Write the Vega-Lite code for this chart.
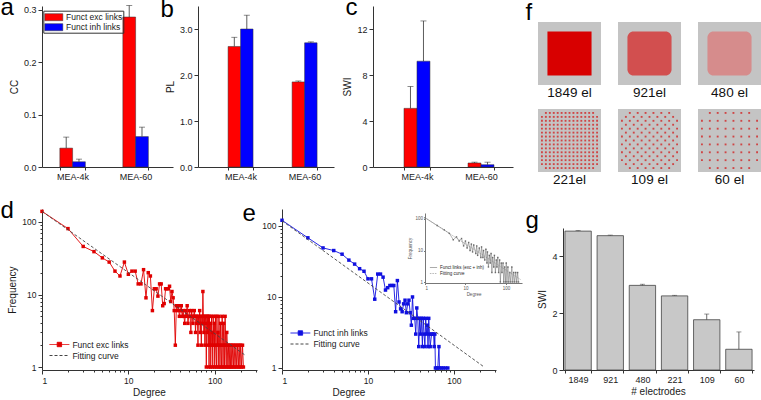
{
  "$schema": "https://vega.github.io/schema/vega-lite/v6.json",
  "background": "white",
  "padding": {"top": -5, "left": 0, "right": 0, "bottom": 0},
  "autosize": {"type": "pad"},
  "spacing": 11,
  "resolve": {"scale": {"color": "independent", "x": "independent", "y": "independent", "xOffset": "independent"}, "legend": {"color": "independent"}},
  "config": {
    "font": "Liberation Sans",
    "view": {"stroke": null},
    "axis": {"labelFont": "Liberation Sans", "titleFont": "Liberation Sans", "labelFontSize": 9, "titleFontSize": 10, "titleFontWeight": "normal", "labelColor": "#1a1a1a", "titleColor": "#1a1a1a", "domainColor": "#333333", "tickColor": "#333333", "tickSize": 3, "grid": false, "labelPadding": 2, "titlePadding": 4, "labelOverlap": false},
    "legend": {"labelFont": "Liberation Sans", "labelColor": "#1a1a1a"},
    "title": {"font": "Liberation Sans", "fontWeight": "normal", "color": "#1a1a1a"}
  },
  "datasets": {
    "cc": [
      {"g": "MEA-4k", "t": "Funct exc links", "v": 0.036, "hi": 0.057},
      {"g": "MEA-4k", "t": "Funct inh links", "v": 0.010, "hi": 0.015},
      {"g": "MEA-60", "t": "Funct exc links", "v": 0.286, "hi": 0.308},
      {"g": "MEA-60", "t": "Funct inh links", "v": 0.058, "hi": 0.076}
    ],
    "pl": [
      {"g": "MEA-4k", "t": "Funct exc links", "v": 2.62, "hi": 2.82},
      {"g": "MEA-4k", "t": "Funct inh links", "v": 3.0, "hi": 3.3},
      {"g": "MEA-60", "t": "Funct exc links", "v": 1.85, "hi": 1.87},
      {"g": "MEA-60", "t": "Funct inh links", "v": 2.70, "hi": 2.72}
    ],
    "swi": [
      {"g": "MEA-4k", "t": "Funct exc links", "v": 5.1, "hi": 7.0},
      {"g": "MEA-4k", "t": "Funct inh links", "v": 9.2, "hi": 12.7},
      {"g": "MEA-60", "t": "Funct exc links", "v": 0.35, "hi": 0.42},
      {"g": "MEA-60", "t": "Funct inh links", "v": 0.2, "hi": 0.42}
    ],
    "elec": [
      {"n": "1849", "v": 4.89, "hi": 4.91},
      {"n": "921", "v": 4.73, "hi": 4.75},
      {"n": "480", "v": 2.98, "hi": 3.02},
      {"n": "221", "v": 2.61, "hi": 2.63},
      {"n": "109", "v": 1.77, "hi": 1.97},
      {"n": "60", "v": 0.73, "hi": 1.34}
    ],
    "fpanels": [
      {"col": 0, "row": 0, "label": "1849 el", "kind": "solid"},
      {"col": 1, "row": 0, "label": "921el", "kind": "checker"},
      {"col": 2, "row": 0, "label": "480 el", "kind": "grid"},
      {"col": 0, "row": 1, "label": "221el", "kind": "dots"},
      {"col": 1, "row": 1, "label": "109 el", "kind": "dots"},
      {"col": 2, "row": 1, "label": "60 el", "kind": "dots"}
    ],
    "fdots": [
      {"col": 0, "row": 1, "i": 0, "js": [3,6,9,12,15,18,21,24,27,30,33,36,39]},
      {"col": 0, "row": 1, "i": 3, "js": [0,3,6,9,12,15,18,21,24,27,30,33,36,39,42]},
      {"col": 0, "row": 1, "i": 6, "js": [0,3,6,9,12,15,18,21,24,27,30,33,36,39,42]},
      {"col": 0, "row": 1, "i": 9, "js": [0,3,6,9,12,15,18,21,24,27,30,33,36,39,42]},
      {"col": 0, "row": 1, "i": 12, "js": [0,3,6,9,12,15,18,21,24,27,30,33,36,39,42]},
      {"col": 0, "row": 1, "i": 15, "js": [0,3,6,9,12,15,18,21,24,27,30,33,36,39,42]},
      {"col": 0, "row": 1, "i": 18, "js": [0,3,6,9,12,15,18,21,24,27,30,33,36,39,42]},
      {"col": 0, "row": 1, "i": 21, "js": [0,3,6,9,12,15,18,21,24,27,30,33,36,39,42]},
      {"col": 0, "row": 1, "i": 24, "js": [0,3,6,9,12,15,18,21,24,27,30,33,36,39,42]},
      {"col": 0, "row": 1, "i": 27, "js": [0,3,6,9,12,15,18,21,24,27,30,33,36,39,42]},
      {"col": 0, "row": 1, "i": 30, "js": [0,3,6,9,12,15,18,21,24,27,30,33,36,39,42]},
      {"col": 0, "row": 1, "i": 33, "js": [0,3,6,9,12,15,18,21,24,27,30,33,36,39,42]},
      {"col": 0, "row": 1, "i": 36, "js": [0,3,6,9,12,15,18,21,24,27,30,33,36,39,42]},
      {"col": 0, "row": 1, "i": 39, "js": [0,3,6,9,12,15,18,21,24,27,30,33,36,39,42]},
      {"col": 0, "row": 1, "i": 42, "js": [3,6,9,12,15,18,21,24,27,30,33,36,39]},
      {"col": 1, "row": 1, "i": 0, "js": [6,12,18,24,30,36]},
      {"col": 1, "row": 1, "i": 3, "js": [3,9,15,21,27,33,39]},
      {"col": 1, "row": 1, "i": 6, "js": [0,6,12,18,24,30,36,42]},
      {"col": 1, "row": 1, "i": 9, "js": [3,9,15,21,27,33,39]},
      {"col": 1, "row": 1, "i": 12, "js": [0,6,12,18,24,30,36,42]},
      {"col": 1, "row": 1, "i": 15, "js": [3,9,15,21,27,33,39]},
      {"col": 1, "row": 1, "i": 18, "js": [0,6,12,18,24,30,36,42]},
      {"col": 1, "row": 1, "i": 21, "js": [3,9,15,21,27,33,39]},
      {"col": 1, "row": 1, "i": 24, "js": [0,6,12,18,24,30,36,42]},
      {"col": 1, "row": 1, "i": 27, "js": [3,9,15,21,27,33,39]},
      {"col": 1, "row": 1, "i": 30, "js": [0,6,12,18,24,30,36,42]},
      {"col": 1, "row": 1, "i": 33, "js": [3,9,15,21,27,33,39]},
      {"col": 1, "row": 1, "i": 36, "js": [0,6,12,18,24,30,36,42]},
      {"col": 1, "row": 1, "i": 39, "js": [3,9,15,21,27,33,39]},
      {"col": 1, "row": 1, "i": 42, "js": [6,12,18,24,30,36]},
      {"col": 2, "row": 1, "i": 0, "js": [6,12,18,24,30,36]},
      {"col": 2, "row": 1, "i": 6, "js": [0,6,12,18,24,30,36,42]},
      {"col": 2, "row": 1, "i": 12, "js": [0,6,12,18,24,30,36,42]},
      {"col": 2, "row": 1, "i": 18, "js": [0,6,12,18,24,30,36,42]},
      {"col": 2, "row": 1, "i": 24, "js": [0,6,12,18,24,30,36,42]},
      {"col": 2, "row": 1, "i": 30, "js": [0,6,12,18,24,30,36,42]},
      {"col": 2, "row": 1, "i": 36, "js": [0,6,12,18,24,30,36,42]},
      {"col": 2, "row": 1, "i": 42, "js": [6,12,18,24,30,36]}
    ],
    "dexc": [
      {"deg":1,"fr":140},{"deg":2,"fr":81},{"deg":3,"fr":46},{"deg":4,"fr":39},{"deg":5,"fr":32},{"deg":6,"fr":28},{"deg":7,"fr":21},{"deg":8,"fr":18},{"deg":9,"fr":28},{"deg":10,"fr":19},
      {"deg":11,"fr":21},{"deg":12,"fr":21},{"deg":13,"fr":14},{"deg":14,"fr":14},{"deg":15,"fr":22},{"deg":16,"fr":9},{"deg":17,"fr":20},{"deg":18,"fr":18},{"deg":19,"fr":6},{"deg":20,"fr":12},
      {"deg":21,"fr":12},{"deg":22,"fr":9.5},{"deg":23,"fr":14},{"deg":24,"fr":14},{"deg":25,"fr":7},{"deg":26,"fr":7.5},{"deg":27,"fr":12},{"deg":28,"fr":12},{"deg":29,"fr":12},{"deg":30,"fr":13},
      {"deg":31,"fr":8},{"deg":32,"fr":11},{"deg":33,"fr":9},{"deg":34,"fr":6},{"deg":35,"fr":2},{"deg":36,"fr":7},{"deg":37,"fr":6},{"deg":38,"fr":7},{"deg":39,"fr":5},{"deg":40,"fr":6},
      {"deg":41,"fr":7},{"deg":42,"fr":5},{"deg":43,"fr":6},{"deg":44,"fr":5},{"deg":45,"fr":4},{"deg":46,"fr":6},{"deg":47,"fr":5},{"deg":48,"fr":7},{"deg":49,"fr":4},{"deg":50,"fr":5},
      {"deg":51,"fr":6},{"deg":52,"fr":5},{"deg":53,"fr":3},{"deg":54,"fr":6},{"deg":55,"fr":5},{"deg":56,"fr":4},{"deg":57,"fr":5},{"deg":58,"fr":6},{"deg":59,"fr":5},{"deg":60,"fr":3},
      {"deg":61,"fr":5},{"deg":62,"fr":4},{"deg":63,"fr":5},{"deg":64,"fr":2},{"deg":65,"fr":5},{"deg":66,"fr":4},{"deg":67,"fr":6},{"deg":68,"fr":3},{"deg":69,"fr":5},{"deg":70,"fr":2},
      {"deg":71,"fr":5},{"deg":72,"fr":4},{"deg":73,"fr":11},{"deg":74,"fr":5},{"deg":75,"fr":3},{"deg":76,"fr":5},{"deg":77,"fr":2},{"deg":78,"fr":5},{"deg":79,"fr":4},{"deg":80,"fr":1},
      {"deg":81,"fr":5},{"deg":82,"fr":3},{"deg":83,"fr":5},{"deg":84,"fr":2},{"deg":85,"fr":5},{"deg":86,"fr":1},{"deg":87,"fr":5},{"deg":88,"fr":2},{"deg":89,"fr":4},{"deg":90,"fr":1},
      {"deg":92,"fr":5},{"deg":93,"fr":2},{"deg":94,"fr":3},{"deg":95,"fr":1},{"deg":96,"fr":5},{"deg":98,"fr":2},{"deg":99,"fr":4},{"deg":100,"fr":1},{"deg":102,"fr":5},{"deg":103,"fr":2},
      {"deg":105,"fr":1},{"deg":106,"fr":5},{"deg":108,"fr":2},{"deg":109,"fr":3},{"deg":110,"fr":1},{"deg":112,"fr":5},{"deg":114,"fr":2},{"deg":115,"fr":1},{"deg":117,"fr":4},{"deg":118,"fr":2},
      {"deg":120,"fr":1},{"deg":122,"fr":5},{"deg":124,"fr":2},{"deg":125,"fr":1},{"deg":127,"fr":4},{"deg":129,"fr":2},{"deg":130,"fr":1},{"deg":132,"fr":5},{"deg":134,"fr":2},{"deg":136,"fr":1},
      {"deg":138,"fr":3},{"deg":140,"fr":2},{"deg":142,"fr":1},{"deg":145,"fr":2},{"deg":147,"fr":1},{"deg":150,"fr":2},{"deg":153,"fr":1},{"deg":155,"fr":2},{"deg":158,"fr":1},{"deg":162,"fr":2},
      {"deg":165,"fr":1},{"deg":168,"fr":2},{"deg":172,"fr":1},{"deg":176,"fr":2},{"deg":180,"fr":1},{"deg":184,"fr":2},{"deg":188,"fr":1},{"deg":192,"fr":2},{"deg":196,"fr":1},{"deg":200,"fr":2},
      {"deg":205,"fr":1},{"deg":210,"fr":2},{"deg":215,"fr":1}
    ],
    "dfit": [{"deg": 1, "fr": 140}, {"deg": 223, "fr": 1.47}],
    "einh": [
      {"deg":1,"fr":120},{"deg":2,"fr":68},{"deg":3,"fr":49},{"deg":4,"fr":45},{"deg":5,"fr":40},{"deg":6,"fr":33},{"deg":7,"fr":29},{"deg":8,"fr":25},{"deg":9,"fr":23},{"deg":10,"fr":18},
      {"deg":11,"fr":18},{"deg":12,"fr":9.3},{"deg":13,"fr":21},{"deg":14,"fr":21},{"deg":15,"fr":19},{"deg":16,"fr":12.5},{"deg":17,"fr":13.5},{"deg":18,"fr":14.5},{"deg":19,"fr":14.5},{"deg":20,"fr":14.5},
      {"deg":21,"fr":6.2},{"deg":22,"fr":17},{"deg":23,"fr":8.5},{"deg":24,"fr":6.8},{"deg":25,"fr":6.2},{"deg":26,"fr":8},{"deg":27,"fr":9},{"deg":28,"fr":6},{"deg":29,"fr":8},{"deg":30,"fr":9},
      {"deg":31,"fr":6},{"deg":32,"fr":4},{"deg":33,"fr":10},{"deg":34,"fr":5},{"deg":35,"fr":5},{"deg":36,"fr":3},{"deg":37,"fr":7},{"deg":38,"fr":5},{"deg":39,"fr":2},{"deg":40,"fr":5},
      {"deg":41,"fr":3},{"deg":42,"fr":5},{"deg":43,"fr":2},{"deg":44,"fr":5},{"deg":45,"fr":3},{"deg":46,"fr":2},{"deg":47,"fr":5},{"deg":48,"fr":3},{"deg":49,"fr":4},{"deg":50,"fr":2},
      {"deg":51,"fr":5},{"deg":52,"fr":3},{"deg":53,"fr":2},{"deg":55,"fr":3},{"deg":56,"fr":3},{"deg":58,"fr":3},{"deg":59,"fr":2},{"deg":60,"fr":3},{"deg":61,"fr":1},{"deg":63,"fr":1},
      {"deg":65,"fr":1},{"deg":67,"fr":2},{"deg":68,"fr":1},{"deg":72,"fr":1},{"deg":75,"fr":1},{"deg":80,"fr":1},{"deg":85,"fr":1}
    ],
    "efit": [{"deg": 1, "fr": 118}, {"deg": 223, "fr": 1.04}],
    "inset": [
      {"deg":1,"fr":110},{"deg":2,"fr":62},{"deg":3,"fr":45},{"deg":4,"fr":35},{"deg":5,"fr":22},{"deg":6,"fr":27},{"deg":7,"fr":20},{"deg":8,"fr":24},{"deg":9,"fr":14},{"deg":10,"fr":20},
      {"deg":11,"fr":12},{"deg":12,"fr":18},{"deg":13,"fr":10},{"deg":14,"fr":16},{"deg":15,"fr":9},{"deg":16,"fr":15},{"deg":18,"fr":8},{"deg":19,"fr":14},{"deg":20,"fr":7},{"deg":22,"fr":12},
      {"deg":24,"fr":6},{"deg":25,"fr":13},{"deg":27,"fr":6},{"deg":28,"fr":10},{"deg":30,"fr":5},{"deg":32,"fr":11},{"deg":34,"fr":4},{"deg":35,"fr":9},{"deg":37,"fr":3},{"deg":39,"fr":7},
      {"deg":41,"fr":4},{"deg":43,"fr":8},{"deg":45,"fr":2},{"deg":47,"fr":6},{"deg":50,"fr":3},{"deg":52,"fr":7},{"deg":55,"fr":2},{"deg":58,"fr":5},{"deg":60,"fr":3},{"deg":63,"fr":6},
      {"deg":66,"fr":2},{"deg":70,"fr":5},{"deg":73,"fr":1},{"deg":77,"fr":4},{"deg":80,"fr":2},{"deg":85,"fr":4},{"deg":88,"fr":1},{"deg":93,"fr":3},{"deg":97,"fr":1},{"deg":102,"fr":4},
      {"deg":106,"fr":1},{"deg":112,"fr":3},{"deg":118,"fr":1},{"deg":125,"fr":2},{"deg":132,"fr":1},{"deg":140,"fr":3},{"deg":148,"fr":1},{"deg":156,"fr":2},{"deg":165,"fr":1},{"deg":175,"fr":2},
      {"deg":185,"fr":1},{"deg":195,"fr":2},{"deg":205,"fr":1}
    ],
    "insetfit": [{"deg": 1, "fr": 110}, {"deg": 230, "fr": 1.2}]
  },
  "vconcat": [
    {
      "bounds": "flush",
      "spacing": 25,
      "resolve": {"scale": {"color": "independent", "x": "independent", "y": "independent", "xOffset": "independent"}, "legend": {"color": "independent"}},
      "hconcat": [
        {
          "width": 131, "height": 161,
          "data": {"name": "cc"},
          "encoding": {
            "x": {"field": "g", "type": "nominal", "scale": {"paddingInner": 0.595, "paddingOuter": 0.337, "align": 0.42},
                  "axis": {"labelAngle": 0, "tickBand": "extent", "title": "a", "titleX": -42, "titleY": -153, "titleAngle": 0, "titleAlign": "left", "titleBaseline": "alphabetic", "titleFontSize": 24, "titleColor": "#000000"}}
          },
          "layer": [
            {"mark": {"type": "bar", "stroke": "#333333", "strokeWidth": 0.5},
             "encoding": {
               "xOffset": {"field": "t", "type": "nominal", "scale": {"paddingInner": 0, "paddingOuter": 0}},
               "y": {"field": "v", "type": "quantitative", "scale": {"domain": [0, 0.307], "nice": false},
                     "axis": {"title": "CC", "labelOverlap": false, "values": [0, 0.05, 0.1, 0.15, 0.2, 0.25, 0.3], "labelExpr": "abs(datum.value*10-round(datum.value*10))<0.001 ? format(datum.value,'.1f') : ''", "tickSize": {"condition": {"test": "abs(datum.value*10-round(datum.value*10))<0.001", "value": 4}, "value": 2}}},
               "color": {"field": "t", "type": "nominal", "scale": {"domain": ["Funct exc links", "Funct inh links"], "range": ["#ff0000", "#0000ff"]},
                         "legend": {"orient": "none", "legendX": 1.3, "legendY": 4.7, "title": null, "symbolType": "M-1.8,-0.7H1.8V0.7H-1.8Z", "symbolSize": 100, "symbolOffset": 4, "labelOffset": 6.7, "labelFontSize": 8.5, "rowPadding": 0, "padding": 1, "strokeColor": "#333333", "symbolStrokeColor": "#333333", "symbolStrokeWidth": 0.5}}
             }},
            {"mark": {"type": "rule", "color": "#333333", "strokeWidth": 0.8}, "encoding": {"xOffset": {"field": "t", "type": "nominal"}, "y": {"field": "v", "type": "quantitative"}, "y2": {"field": "hi"}}},
            {"mark": {"type": "tick", "color": "#333333", "size": 6, "thickness": 0.8}, "encoding": {"xOffset": {"field": "t", "type": "nominal"}, "y": {"field": "hi", "type": "quantitative"}}}
          ]
        },
        {
          "width": 150, "height": 161,
          "data": {"name": "pl"},
          "encoding": {
            "x": {"field": "g", "type": "nominal", "scale": {"range": [0, 136], "paddingInner": 0.61, "paddingOuter": 0.367, "align": 0.64},
                  "axis": {"labelAngle": 0, "tickBand": "extent", "title": "b", "titleX": -38, "titleY": -150.5, "titleAngle": 0, "titleAlign": "left", "titleBaseline": "alphabetic", "titleFontSize": 24, "titleColor": "#000000"}}
          },
          "layer": [
            {"mark": {"type": "bar", "stroke": "#333333", "strokeWidth": 0.5},
             "encoding": {
               "xOffset": {"field": "t", "type": "nominal", "scale": {"paddingInner": 0, "paddingOuter": 0}},
               "y": {"field": "v", "type": "quantitative", "scale": {"domain": [0, 3.5], "nice": false},
                     "axis": {"title": "PL", "labelOverlap": false, "values": [0, 0.5, 1, 1.5, 2, 2.5, 3, 3.5], "format": ".1f", "tickSize": 4}},
               "color": {"field": "t", "type": "nominal", "scale": {"domain": ["Funct exc links", "Funct inh links"], "range": ["#ff0000", "#0000ff"]}, "legend": null}
             }},
            {"mark": {"type": "rule", "color": "#333333", "strokeWidth": 0.8}, "encoding": {"xOffset": {"field": "t", "type": "nominal"}, "y": {"field": "v", "type": "quantitative"}, "y2": {"field": "hi"}}},
            {"mark": {"type": "tick", "color": "#333333", "size": 6, "thickness": 0.8}, "encoding": {"xOffset": {"field": "t", "type": "nominal"}, "y": {"field": "hi", "type": "quantitative"}}}
          ]
        },
        {
          "width": 140, "height": 161,
          "data": {"name": "swi"},
          "encoding": {
            "x": {"field": "g", "type": "nominal", "scale": {"paddingInner": 0.594, "paddingOuter": 0.39, "align": 0.62},
                  "axis": {"labelAngle": 0, "tickBand": "extent", "title": "c", "titleX": -28, "titleY": -153, "titleAngle": 0, "titleAlign": "left", "titleBaseline": "alphabetic", "titleFontSize": 24, "titleColor": "#000000"}}
          },
          "layer": [
            {"mark": {"type": "bar", "stroke": "#333333", "strokeWidth": 0.5},
             "encoding": {
               "xOffset": {"field": "t", "type": "nominal", "scale": {"paddingInner": 0, "paddingOuter": 0}},
               "y": {"field": "v", "type": "quantitative", "scale": {"domain": [0, 14], "nice": false},
                     "axis": {"title": "SWI", "labelOverlap": false, "values": [0, 2, 4, 6, 8, 10, 12, 14], "format": "d", "tickSize": 4}},
               "color": {"field": "t", "type": "nominal", "scale": {"domain": ["Funct exc links", "Funct inh links"], "range": ["#ff0000", "#0000ff"]}, "legend": null}
             }},
            {"mark": {"type": "rule", "color": "#333333", "strokeWidth": 0.8}, "encoding": {"xOffset": {"field": "t", "type": "nominal"}, "y": {"field": "v", "type": "quantitative"}, "y2": {"field": "hi"}}},
            {"mark": {"type": "tick", "color": "#333333", "size": 6, "thickness": 0.8}, "encoding": {"xOffset": {"field": "t", "type": "nominal"}, "y": {"field": "hi", "type": "quantitative"}}}
          ]
        },
        {
          "width": 223, "height": 161,
          "resolve": {"scale": {"xOffset": "independent", "yOffset": "independent"}},
          "encoding": {
            "x": {"field": "col", "type": "ordinal", "scale": {"type": "band", "paddingInner": 0.2125, "paddingOuter": 0},
                  "axis": {"domain": false, "ticks": false, "labels": false, "title": "f", "titleX": -13, "titleY": -148, "titleAngle": 0, "titleAlign": "left", "titleBaseline": "alphabetic", "titleFontSize": 24, "titleColor": "#000000"}},
            "y": {"field": "row", "type": "ordinal", "scale": {"type": "band", "range": [0, 190], "paddingInner": 0.2759, "paddingOuter": 0.23, "align": 0.4}, "axis": null}
          },
          "layer": [
            {"data": {"name": "fpanels"}, "mark": {"type": "rect", "color": "#c4c4c4"}},
            {"data": {"name": "fpanels"}, "transform": [{"filter": "datum.kind === 'solid'"}],
             "mark": {"type": "rect", "color": "#d80000", "width": {"band": 0.7}, "height": {"band": 0.7}}},
            {"data": {"name": "fpanels"}, "transform": [{"filter": "datum.kind === 'checker' || datum.kind === 'grid'"}],
             "mark": {"type": "rect", "width": {"band": 0.7}, "height": {"band": 0.7}, "cornerRadius": 6},
             "encoding": {"color": {"field": "kind", "type": "nominal", "scale": {"domain": ["checker", "grid"], "range": ["#d24f4f", "#d68c8c"]}, "legend": null}}},
            {"data": {"name": "fdots"}, "transform": [{"flatten": ["js"], "as": ["j"]}],
             "mark": {"type": "point", "shape": "square", "filled": true, "size": 3.5, "color": "#cf4545", "opacity": 1},
             "encoding": {
               "xOffset": {"field": "i", "type": "ordinal", "scale": {"type": "point", "padding": 3.256}},
               "yOffset": {"field": "j", "type": "ordinal", "scale": {"type": "point", "padding": 3.256}}
             }},
            {"data": {"name": "fpanels"}, "mark": {"type": "text", "fontSize": 13.5, "dy": 39.5, "baseline": "middle", "color": "#111111"},
             "encoding": {"text": {"field": "label"}}}
          ]
        }
      ]
    },
    {
      "bounds": "flush",
      "spacing": 25,
      "resolve": {"scale": {"color": "independent", "x": "independent", "y": "independent"}, "legend": {"color": "independent"}},
      "hconcat": [
        {
          "width": 215, "height": 161,
          "title": {"text": "Degree", "orient": "bottom", "fontSize": 10, "offset": 3},
          "layer": [
            {"data": {"name": "dexc"},
             "mark": {"type": "line", "strokeWidth": 0.9, "point": {"shape": "square", "filled": true, "size": 12}},
             "encoding": {
               "x": {"field": "deg", "type": "quantitative", "scale": {"type": "log", "domain": [1, 309], "nice": false},
                     "axis": {"values": [1,2,3,4,5,6,7,8,9,10,20,30,40,50,60,70,80,90,100,200,300], "labelExpr": "datum.value === 1 || datum.value === 10 || datum.value === 100 ? '' + datum.value : ''", "tickSize": {"condition": {"test": "datum.value === 1 || datum.value === 10 || datum.value === 100", "value": 4}, "value": 2}, "labelFontSize": 8.5,
                              "title": "d", "titleX": -42, "titleY": -153, "titleAngle": 0, "titleAlign": "left", "titleBaseline": "alphabetic", "titleFontSize": 24, "titleColor": "#000000"}},
               "y": {"field": "fr", "type": "quantitative", "scale": {"type": "log", "domain": [0.91, 151], "nice": false},
                     "axis": {"title": "Frequency", "values": [1,2,3,4,5,6,7,8,9,10,20,30,40,50,60,70,80,90,100], "labelExpr": "datum.value === 1 || datum.value === 10 || datum.value === 100 ? '' + datum.value : ''", "tickSize": {"condition": {"test": "datum.value === 1 || datum.value === 10 || datum.value === 100", "value": 4}, "value": 2}, "labelFontSize": 8.5}},
               "color": {"datum": "Funct exc links", "type": "nominal", "scale": {"domain": ["Funct exc links", "Fitting curve"], "range": ["#e00000", "#444444"]},
                         "legend": {"orient": "none", "legendX": 11.4, "legendY": 129.5, "title": null, "symbolSize": 121, "labelOffset": 7, "labelFontSize": 8.5, "rowPadding": 0, "symbolStrokeWidth": 1,
                                    "encode": {"symbols": {"update": {
                                      "shape": {"signal": "datum.value === 'Fitting curve' ? 'M-1.8,0H1.8' : 'M-1.8,0H1.8M-0.4,-0.4H0.4V0.4H-0.4Z'"},
                                      "fill": {"signal": "datum.value === 'Fitting curve' ? 'transparent' : '#e00000'"},
                                      "strokeDash": {"signal": "datum.value === 'Fitting curve' ? [3,2] : [1,0]"}}}}}}
             }},
            {"data": {"name": "dfit"},
             "mark": {"type": "line", "strokeWidth": 0.9, "strokeDash": [3, 2]},
             "encoding": {
               "x": {"field": "deg", "type": "quantitative"},
               "y": {"field": "fr", "type": "quantitative"},
               "color": {"datum": "Fitting curve", "type": "nominal"}
             }}
          ]
        },
        {
          "width": 256, "height": 161,
          "title": {"text": "Degree", "orient": "bottom", "fontSize": 10, "offset": 3, "anchor": "start", "align": "center", "dx": 107},
          "resolve": {"scale": {"x": "independent", "y": "independent", "color": "independent"}, "axis": {"x": "independent", "y": "independent"}, "legend": {"color": "independent"}},
          "layer": [
            {
              "layer": [
                {"data": {"name": "einh"},
                 "mark": {"type": "line", "strokeWidth": 0.9, "point": {"shape": "square", "filled": true, "size": 12}},
                 "encoding": {
                   "x": {"field": "deg", "type": "quantitative", "scale": {"type": "log", "domain": [1, 309], "range": [0, 214], "nice": false},
                         "axis": {"values": [1,2,3,4,5,6,7,8,9,10,20,30,40,50,60,70,80,90,100,200,300], "labelExpr": "datum.value === 1 || datum.value === 10 || datum.value === 100 ? '' + datum.value : ''", "tickSize": {"condition": {"test": "datum.value === 1 || datum.value === 10 || datum.value === 100", "value": 4}, "value": 2}, "labelFontSize": 8.5,
                                  "title": "e", "titleX": -40, "titleY": -150, "titleAngle": 0, "titleAlign": "left", "titleBaseline": "alphabetic", "titleFontSize": 24, "titleColor": "#000000"}},
                   "y": {"field": "fr", "type": "quantitative", "scale": {"type": "log", "domain": [0.937, 173], "nice": false},
                         "axis": {"title": null, "values": [1,2,3,4,5,6,7,8,9,10,20,30,40,50,60,70,80,90,100], "labelExpr": "datum.value === 1 || datum.value === 10 || datum.value === 100 ? '' + datum.value : ''", "tickSize": {"condition": {"test": "datum.value === 1 || datum.value === 10 || datum.value === 100", "value": 4}, "value": 2}, "labelFontSize": 8.5}},
                   "color": {"datum": "Funct inh links", "type": "nominal", "scale": {"domain": ["Funct inh links", "Fitting curve"], "range": ["#1010e0", "#444444"]},
                             "legend": {"orient": "none", "legendX": 12.4, "legendY": 118, "title": null, "symbolSize": 121, "labelOffset": 7, "labelFontSize": 8.5, "rowPadding": 0, "symbolStrokeWidth": 1,
                                        "encode": {"symbols": {"update": {
                                          "shape": {"signal": "datum.value === 'Fitting curve' ? 'M-1.8,0H1.8' : 'M-1.8,0H1.8M-0.4,-0.4H0.4V0.4H-0.4Z'"},
                                          "fill": {"signal": "datum.value === 'Fitting curve' ? 'transparent' : '#1010e0'"},
                                          "strokeDash": {"signal": "datum.value === 'Fitting curve' ? [3,2] : [1,0]"}}}}}}
                 }},
                {"data": {"name": "efit"},
                 "mark": {"type": "line", "strokeWidth": 0.9, "strokeDash": [3, 2]},
                 "encoding": {
                   "x": {"field": "deg", "type": "quantitative"},
                   "y": {"field": "fr", "type": "quantitative"},
                   "color": {"datum": "Fitting curve", "type": "nominal"}
                 }}
              ]
            },
            {
              "layer": [
                {"data": {"name": "inset"},
                 "mark": {"type": "line", "strokeWidth": 0.5, "point": {"shape": "square", "filled": true, "size": 2}},
                 "encoding": {
                   "x": {"field": "deg", "type": "quantitative", "scale": {"type": "log", "domain": [1, 250], "range": [143, 240], "nice": false},
                         "axis": {"orient": "bottom", "offset": -87, "values": [1, 10, 100], "labelExpr": "'' + datum.value", "labelFontSize": 4.5, "tickSize": 1.5, "labelPadding": 1, "title": "Degree", "titleFontSize": 4.5, "titlePadding": 1, "domainColor": "#777777", "tickColor": "#777777", "labelColor": "#555555", "titleColor": "#555555"}},
                   "y": {"field": "fr", "type": "quantitative", "scale": {"type": "log", "domain": [0.93, 155], "range": [74, 4], "nice": false},
                         "axis": {"orient": "left", "offset": -143, "values": [1, 10, 100], "labelExpr": "'' + datum.value", "labelFontSize": 4.5, "tickSize": 1.5, "labelPadding": 1, "title": "Frequency", "titleFontSize": 4.5, "titlePadding": 2, "domainColor": "#777777", "tickColor": "#777777", "labelColor": "#555555", "titleColor": "#555555"}},
                   "color": {"datum": "Funct links (exc + inh)", "type": "nominal", "scale": {"domain": ["Funct links (exc + inh)", "Fitting curve"], "range": ["#6a6a6a", "#888888"]},
                             "legend": {"orient": "none", "legendX": 149, "legendY": 56, "title": null, "symbolSize": 16, "labelOffset": 4, "labelFontSize": 4.5, "rowPadding": 1, "symbolStrokeWidth": 0.6,
                                        "encode": {"symbols": {"update": {
                                          "shape": {"value": "M-1.8,0H1.8"},
                                          "strokeDash": {"signal": "datum.value === 'Fitting curve' ? [1.5,1] : [1,0]"}}}}}}
                 }},
                {"data": {"name": "insetfit"},
                 "mark": {"type": "line", "strokeWidth": 0.6, "strokeDash": [1.5, 1]},
                 "encoding": {
                   "x": {"field": "deg", "type": "quantitative"},
                   "y": {"field": "fr", "type": "quantitative"},
                   "color": {"datum": "Fitting curve", "type": "nominal"}
                 }}
              ]
            }
          ]
        },
        {
          "width": 191, "height": 161,
          "title": {"text": "# electrodes", "orient": "bottom", "fontSize": 10, "offset": 3},
          "data": {"name": "elec"},
          "encoding": {
            "x": {"field": "n", "type": "nominal", "sort": ["1849", "921", "480", "221", "109", "60"], "scale": {"paddingInner": 0.18, "paddingOuter": 0.06},
                  "axis": {"labelAngle": 0, "tickBand": "extent", "title": "g", "titleX": -38, "titleY": -143, "titleAngle": 0, "titleAlign": "left", "titleBaseline": "alphabetic", "titleFontSize": 24, "titleColor": "#000000"}}
          },
          "layer": [
            {"mark": {"type": "bar", "color": "#c8c8c8", "stroke": "#444444", "strokeWidth": 0.8},
             "encoding": {
               "y": {"field": "v", "type": "quantitative", "scale": {"domain": [0, 5], "range": [161, 19], "nice": false},
                     "axis": {"title": "SWI", "labelOverlap": false, "values": [0, 1, 2, 3, 4, 5], "format": "d", "tickSize": 4}}
             }},
            {"mark": {"type": "rule", "color": "#444444", "strokeWidth": 0.8}, "encoding": {"y": {"field": "v", "type": "quantitative"}, "y2": {"field": "hi"}}},
            {"mark": {"type": "tick", "color": "#444444", "size": 5, "thickness": 0.8}, "encoding": {"y": {"field": "hi", "type": "quantitative"}}}
          ]
        }
      ]
    }
  ]
}
